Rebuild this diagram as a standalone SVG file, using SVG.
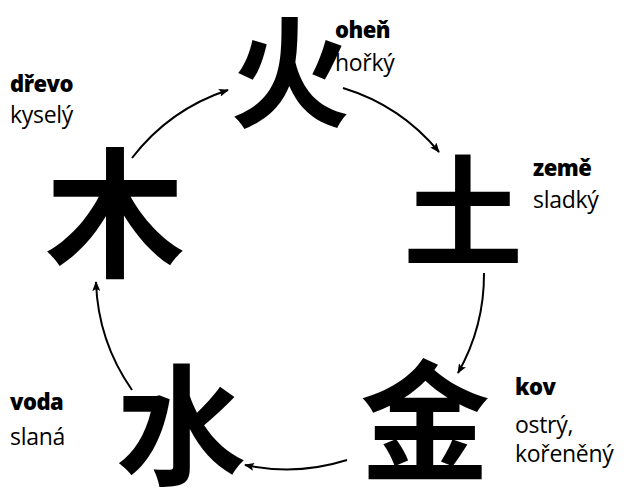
<svg xmlns="http://www.w3.org/2000/svg" width="628" height="490" viewBox="0 0 628 490">
<defs>
<marker id="ah" viewBox="0 0 10 8" refX="9" refY="4" markerWidth="10" markerHeight="8" markerUnits="userSpaceOnUse" orient="auto">
<path d="M0,0 L10,4 L0,8 L2,4 Z" fill="#000"/>
</marker>
</defs>
<style>
.hz{font-family:"Noto Sans CJK SC","Noto Sans CJK JP",sans-serif;font-weight:700;fill:#000;text-anchor:middle}
.b{font-family:"Open Sans","Liberation Sans",sans-serif;font-weight:800;font-size:22px;fill:#000;letter-spacing:-0.5px}
.r{font-family:"Open Sans","Liberation Sans",sans-serif;font-weight:400;font-size:23px;fill:#000;letter-spacing:-0.3px}
.c{fill:none;stroke:#000;stroke-width:2;marker-end:url(#ah)}
</style>
<rect width="628" height="490" fill="#fff"/>
<g id="connectors">
<path class="c" d="M132,158 A200,200 0 0 1 228,90"/>
<path class="c" d="M343,88 A200,200 0 0 1 439,152"/>
<path class="c" d="M484,273 A200,200 0 0 1 458,373"/>
<path class="c" d="M347,460 A200,200 0 0 1 245,465"/>
<path class="c" d="M132,390 A200,200 0 0 1 96,282"/>
</g>
<g id="ohen">
<text class="hz" x="290" y="118" font-size="120">火</text>
<text class="b" x="335" y="38">oheň</text>
<text class="r" x="335" y="71">hořký</text>
</g>
<g id="zeme">
<text class="hz" x="463" y="257" font-size="120">土</text>
<text class="b" x="533" y="176">země</text>
<text class="r" x="533" y="208">sladký</text>
</g>
<g id="kov">
<text class="hz" x="425" y="470" font-size="130">金</text>
<text class="b" x="515" y="395">kov</text>
<text class="r" x="515" y="433">ostrý,</text>
<text class="r" x="515" y="462">kořeněný</text>
</g>
<g id="voda">
<text class="hz" x="181" y="474" font-size="130">水</text>
<text class="b" x="10" y="410">voda</text>
<text class="r" x="10" y="445">slaná</text>
</g>
<g id="drevo">
<text class="hz" x="115" y="266" font-size="140">木</text>
<text class="b" x="10" y="92">dřevo</text>
<text class="r" x="10" y="123">kyselý</text>
</g>
</svg>
